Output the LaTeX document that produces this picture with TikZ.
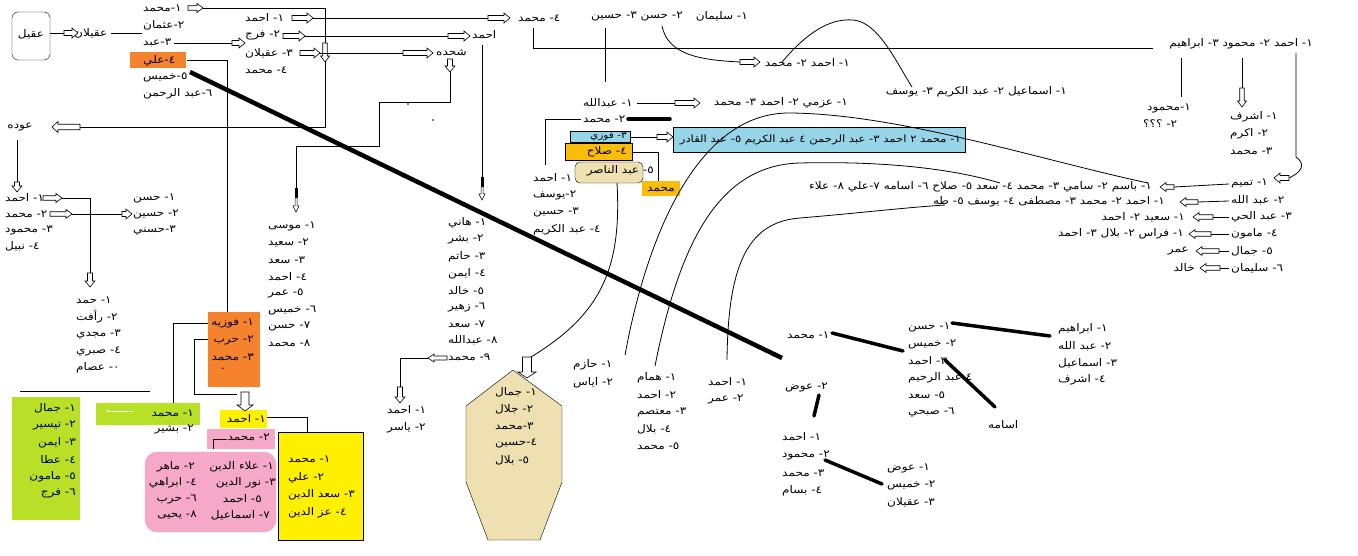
\documentclass[tikz,border=0pt]{standalone}
\usepackage{fontspec}
\usetikzlibrary{arrows.meta}
\newfontfamily\arabicfont[Script=Arabic,FakeStretch=1.15]{DejaVu Sans}
\TeXXeTstate=1
\newcommand\artx[1]{\beginR #1\endR}
\definecolor{orng}{RGB}{245,130,45}
\definecolor{lime}{RGB}{183,224,38}
\definecolor{yel}{RGB}{255,240,0}
\definecolor{pnk}{RGB}{245,168,200}
\definecolor{lblue}{RGB}{150,212,232}
\definecolor{gold}{RGB}{250,190,10}
\definecolor{tan}{RGB}{238,224,176}
\newcommand\harr[5]{%
 \begin{scope}[shift={(#1,#2)},rotate=#3]
 \draw[fill=white,line width=0.6pt] (0,0)--(-6,#5)--(-6,#5/2)--(-#4,#5/2)--(-#4,-#5/2)--(-6,-#5/2)--(-6,-#5)--cycle;
 \end{scope}}
\newcommand\tharr[3]{% thin down arrow: x, top y, bottom tip y
 \fill (#1-1.5,#2) rectangle (#1+1.5,#2+10);
 \draw[fill=white,line width=0.5pt] (#1-1,#2+10)--(#1-1,#3-6)--(#1-3,#3-6)--(#1,#3)--(#1+3,#3-6)--(#1+1,#3-6)--(#1+1,#2+10)--cycle;}
\tikzset{lb/.style={font=\arabicfont\fontsize{10.5}{12}\selectfont, inner sep=0pt},
 sm/.style={font=\arabicfont\fontsize{9.2}{11}\selectfont, inner sep=0pt},
 md/.style={font=\arabicfont\fontsize{10.1}{11}\selectfont, inner sep=0pt},
 ln/.style={line width=0.8pt},
 thick/.style={line width=3.5pt, line cap=round}}
\begin{document}
\begin{tikzpicture}[x=1pt,y=-1pt]
\useasboundingbox (0,0) rectangle (1358,556);
% ---------- boxes (backgrounds) ----------
\fill[orng] (130,52) rectangle (186,68);
\fill[orng] (208,312) rectangle (260,387);
\fill[lime] (12,397) rectangle (80,520);
\fill[lime] (96,403) rectangle (200,425);
\fill[yel] (220,410) rectangle (267,428);
\fill[pnk] (207,429) rectangle (275,449);
\draw[fill=pnk,draw=pnk,rounded corners=12] (145,452) rectangle (276,532);
\draw[fill=yel] (278,432) rectangle (363,540);
\draw[fill=lblue] (570,131) rectangle (630,142);
\draw[fill=lblue] (673,127) rectangle (965,152);
\draw[fill=gold] (565,143) rectangle (632,160);
\fill[gold] (642,181) rectangle (680,196);
\draw[fill=tan,rounded corners=5] (575,162) rectangle (643,183);
\draw[fill=tan] (513,370)--(562,406)--(562,482)--(540,540)--(488,540)--(466,482)--(466,406)--cycle;
\draw[rounded corners=6] (12,12) rectangle (50,60);
% ---------- top-left ----------
\node[lb] (aqil) at (31,34) {\artx{عقيل}};
\node[lb,anchor=west] (aqilan) at (74,33) {\artx{عقيلان}};
\draw[ln] (50,33)--(64,33); \harr{78}{33}{0}{14}{5}
\draw[ln] (111,33)--(142,33);
\node[lb,anchor=west] (m1) at (143,8) {\artx{١-محمد}};
\node[lb,anchor=west] (m2) at (143,25) {\artx{٢-عثمان}};
\node[lb,anchor=west] (m3) at (143,43) {\artx{٣-عبد}};
\node[lb,anchor=west] (m4) at (143,61) {\artx{٤-علي}};
\node[lb,anchor=west] (m5) at (143,77) {\artx{٥-خميس}};
\node[lb,anchor=west] (m6) at (143,94) {\artx{٦-عبد الرحمن}};
\node[lb,anchor=west] (f1) at (245,18) {\artx{١- احمد}};
\node[lb,anchor=west] (f2) at (245,35) {\artx{٢- فرج}};
\node[lb,anchor=west] (f3) at (245,53) {\artx{٣- عقيلان}};
\node[lb,anchor=west] (f4) at (245,70) {\artx{٤- محمد}};
\node[lb] (awda) at (20,127) {\artx{عوده}};
\harr{203}{8}{0}{15}{4.5}
\draw[ln] (203,8)--(325,8)--(325,127)--(80,127);
\harr{52}{127}{180}{28}{5.5}
\harr{325}{62}{-90}{19}{4.5}
\draw[ln] (174,43)--(232,43); \harr{245}{43}{0}{13}{5}
\draw[ln] (187,60)--(227,60)--(227,312);
\harr{313}{18}{0}{21}{5}
\draw[ln] (313,18)--(488,18); \harr{510}{18}{0}{22}{5}
\harr{305}{36}{0}{22}{5}
\draw[ln] (305,36)--(448,36); \harr{470}{36}{0}{22}{5}
\harr{320}{53}{0}{20}{5}
\draw[ln] (320,53)--(403,53); \harr{433}{53}{0}{30}{5}
\node[lb,anchor=west] (tm) at (518,18) {\artx{٤- محمد}};
\node[lb,anchor=west] (ahm) at (472,35) {\artx{احمد}};
\node[lb,anchor=west] (shd) at (436,53) {\artx{شحده}};
\harr{450}{72}{-90}{13}{5}
\draw[ln] (450,72)--(450,102)--(379,102)--(379,146)--(296,146)--(296,188);
\tharr{296}{188}{212}
\fill (408,104) circle (0.8); \fill (433,120) circle (0.8);
\draw[ln] (482,45)--(482,177);
\tharr{482}{177}{200}
% ---------- lists musa / hani ----------
\foreach \t [count=\i] in {١- موسى,٢- سعيد,٣- سعد,٤- احمد,٥- عمر,٦- خميس,٧- حسن,٨- محمد}
 {\node[lb,anchor=west] (mu\i) at (268,{210+16.7*\i}) {\artx{\t}};}
\foreach \t [count=\i] in {١- هاني,٢- بشر,٣- حاتم,٤- ايمن,٥- خالد,٦- زهير,٧- سعد,٨- عبدالله,٩- محمد}
 {\node[lb,anchor=west] (ha\i) at (448,{206.3+16.8*\i}) {\artx{\t}};}
\harr{428}{358}{180}{19}{4}
\draw[ln] (428,358)--(400,358)--(400,387); \harr{400}{403}{-90}{16}{5}
\node[lb,anchor=west] (ya1) at (387,410) {\artx{١- احمد}};
\node[lb,anchor=west] (ya2) at (387,428) {\artx{٢- ياسر}};
% ---------- heptagon ----------
\foreach \t [count=\i] in {١- جمال,٢- جلال,٣-محمد,٤-حسين,٥- بلال}
 {\node[lb,anchor=west] (hp\i) at (495,{375+17*\i}) {\artx{\t}};}
\harr{527}{378}{-90}{21}{9}
% ---------- top middle ----------
\node[lb,anchor=east] (hs) at (683,16) {\artx{٢- حسن ٣- حسين}};
\node[lb,anchor=east] (sl) at (748,16) {\artx{١- سليمان}};
\draw[ln] (533,28)--(533,48)--(1153,48);
\draw[ln] (605,28)--(605,82);
\draw[ln] (662,26) .. controls (668,55) and (700,60) .. (740,62);
\harr{760}{62}{0}{20}{5}
\node[lb,anchor=east] (am) at (850,63) {\artx{١- احمد ٢- محمد}};
\draw[ln] (782,62) .. controls (805,35) and (828,18) .. (853,20) .. controls (878,22) and (895,60) .. (912,87);
\node[lb,anchor=east] (isy) at (1067,92) {\artx{١- اسماعيل ٢- عبد الكريم ٣- يوسف}};
\node[lb,anchor=east] (amb) at (1313,44) {\artx{١- احمد ٢- محمود ٣- ابراهيم}};
\draw[ln] (1181,58)--(1181,97);
\node[lb,anchor=west] (mh1) at (1147,108) {\artx{١-محمود}};
\node[lb,anchor=west] (mh2) at (1143,124) {\artx{٢- ؟؟؟}};
\draw[ln] (1242,58)--(1242,88); \harr{1242}{107}{-90}{19}{4.5}
\node[lb,anchor=west] (as1) at (1230,117) {\artx{١- اشرف}};
\node[lb,anchor=west] (as2) at (1230,134) {\artx{٢- اكرم}};
\node[lb,anchor=west] (as3) at (1230,151) {\artx{٣- محمد}};
\draw[ln] (1296,53)--(1296,157) .. controls (1306,164) and (1302,172) .. (1289,178);
\harr{1274}{178}{180}{15}{5}
% ---------- middle ----------
\node[lb,anchor=west] (ab1) at (583,103) {\artx{١- عبدالله}};
\draw[ln] (637,103)--(675,103); \harr{700}{103}{0}{25}{5}
\node[lb,anchor=east] (az) at (848,103) {\artx{١- عزمي ٢- احمد ٣- محمد}};
\node[lb,anchor=west] (ab2) at (583,119) {\artx{٢- محمد}};
\draw[thick] (628,119)--(670,119);
\draw[ln] (581,119)--(545,119)--(545,165);
\foreach \t [count=\i] in {١- احمد,٢-يوسف,٣- حسين,٤- عبد الكريم}
 {\node[lb,anchor=west] (yu\i) at (533,{160.5+17.3*\i}) {\artx{\t}};}
\node[sm,anchor=east] (fz) at (627,137) {\artx{٣- فوزي}};
\draw[ln] (630,137)--(657,137); \harr{673}{137}{0}{16}{5}
\node[md,anchor=east] (bl) at (961,140) {\artx{١- محمد ٢ احمد ٣- عبد الرحمن ٤ عبد الكريم ٥- عبد القادر}};
\node[lb,anchor=east] (sal) at (627,152) {\artx{٤- صلاح}};
\draw[ln] (632,152)--(658,152)--(658,181);
\node[lb] (smh) at (661,189) {\artx{محمد}};
\node[lb,anchor=east] (nas) at (654,171) {\artx{٥- عبد الناصر}};
\draw[ln] (617,183) .. controls (622,270) and (600,315) .. (531,357);
% ---------- lower middle ----------
\node[lb,anchor=west] (hz1) at (573,365) {\artx{١- حازم}};
\node[lb,anchor=west] (hz2) at (573,383) {\artx{٢- اياس}};
\foreach \t [count=\i] in {١- همام,٢- احمد,٣- معتصم,٤- بلال,٥- محمد}
 {\node[lb,anchor=west] (hm\i) at (637,{361+17*\i}) {\artx{\t}};}
\node[lb,anchor=west] (ao1) at (708,382) {\artx{١- احمد}};
\node[lb,anchor=west] (ao2) at (708,399) {\artx{٢- عمر}};
\draw[ln] (625,355) .. controls (648,230) and (700,112) .. (790,113) .. controls (900,114) and (1040,160) .. (1148,183);
\draw[ln] (655,366) .. controls (680,240) and (720,165) .. (800,163) .. controls (880,161) and (950,168) .. (1000,183);
\draw[ln] (727,360) .. controls (728,270) and (745,222) .. (800,218) .. controls (860,213) and (900,208) .. (945,205);
% ---------- right column ----------
\foreach \t [count=\i] in {١- تميم,٢- عبد الله,٣- عبد الحي,٤- مامون,٥- جمال,٦- سليمان}
 {\node[lb,anchor=west] (rc\i) at (1231,{166+17*\i}) {\artx{\t}};}
\node[lb,anchor=east] (bs) at (1152,187) {\artx{١- باسم ٢- سامي ٣- محمد ٤- سعد ٥- صلاح ٦- اسامه ٧-علي ٨- علاء}};
\harr{1160}{187}{180}{14}{4.5} \draw[ln] (1174,187)--(1229,184);
\node[lb,anchor=east] (mt) at (1165,202) {\artx{١- احمد ٢- محمد ٣- مصطفى ٤- يوسف ٥- طه}};
\harr{1180}{202}{180}{18}{4.5} \draw[ln] (1198,202)--(1229,201);
\node[lb,anchor=east] (sa) at (1185,217) {\artx{١- سعيد ٢- احمد}};
\harr{1193}{217}{180}{20}{4.5} \draw[ln] (1213,217)--(1229,217);
\node[lb,anchor=east] (fr) at (1184,234) {\artx{١- فراس ٢- بلال ٣- احمد}};
\harr{1189}{234}{180}{22}{4.5} \draw[ln] (1211,234)--(1229,234);
\node[lb,anchor=east] (om) at (1189,251) {\artx{عمر}};
\harr{1196}{251}{180}{23}{4.5} \draw[ln] (1219,251)--(1229,251);
\node[lb,anchor=east] (kh) at (1195,268) {\artx{خالد}};
\harr{1200}{268}{180}{20}{4.5} \draw[ln] (1220,268)--(1229,268);
% ---------- lower right ----------
\draw[line width=4.5pt] (190,72)--(782,358);
\node[lb,anchor=west] (lm) at (787,335) {\artx{١- محمد}};
\node[lb,anchor=west] (lw) at (785,387) {\artx{٢- عوض}};
\foreach \t [count=\i] in {١- احمد,٢- محمود,٣- محمد,٤- بسام}
 {\node[lb,anchor=west] (lb\i) at (782,{419+18*\i}) {\artx{\t}};}
\foreach \t [count=\i] in {١- عوض,٢- خميس,٣- عقيلان}
 {\node[lb,anchor=west] (lc\i) at (887,{451+17*\i}) {\artx{\t}};}
\foreach \t [count=\i] in {١- حسن,٢- خميس,٣- احمد,٤ عبد الرحيم,٥- سعد,٦- صبحي}
 {\node[lb,anchor=west] (ld\i) at (908,{310+17*\i}) {\artx{\t}};}
\foreach \t [count=\i] in {١- ابراهيم,٢- عبد الله,٣- اسماعيل,٤- اشرف}
 {\node[lb,anchor=west] (le\i) at (1058,{312+17*\i}) {\artx{\t}};}
\node[lb,anchor=west] (osm) at (988,425) {\artx{اسامه}};
\draw[thick] (832,333)--(903,351);
\draw[thick] (952,323)--(1050,336);
\draw[thick] (945,360)--(995,407);
\draw[thick] (819,395)--(814,416);
\draw[thick] (825,460)--(882,484);
% ---------- bottom-left ----------
\draw[ln] (17,140)--(17,182); \harr{17}{192}{-90}{10}{5}
\foreach \t [count=\i] in {١- احمد,٢- محمد,٣- محمود,٤- نبيل}
 {\node[lb,anchor=west] (aw\i) at (5,{181.5+16.3*\i}) {\artx{\t}};}
\harr{62}{198}{0}{19}{4.5}
\draw[ln] (62,198)--(90,198)--(90,273); \harr{90}{287}{-90}{14}{5}
\harr{72}{214}{0}{22}{4.5}
\draw[ln] (72,214)--(122,214); \harr{132}{214}{0}{10}{5}
\foreach \t [count=\i] in {١- حسن,٢- حسين,٣-حسني}
 {\node[lb,anchor=west] (hn\i) at (133,{182+16*\i}) {\artx{\t}};}
\foreach \t [count=\i] in {١- حمد,٢- رأفت,٣- مجدي,٤- صبري,٠- عصام}
 {\node[lb,anchor=west] (hd\i) at (76,{283+17*\i}) {\artx{\t}};}
\node[lb,anchor=east] (fw1) at (254,323) {\artx{١- فوزيه}};
\node[lb,anchor=east] (fw2) at (254,340) {\artx{٢- حرب}};
\node[lb,anchor=east] (fw3) at (254,357) {\artx{٣- محمد}};
\node[lb] (fw4) at (223,369) {.};
\draw[ln] (208,323)--(173,323)--(173,403);
\draw[ln] (208,339)--(194,339)--(194,394)--(237,394);
\harr{245}{411}{-90}{19}{8}
\draw[ln] (20,391)--(150,391);
\foreach \t [count=\i] in {١- جمال,٢- تيسير,٣- ايمن,٤- عطا,٥- مامون,٦- فرج}
 {\node[lb,anchor=east] (gr\i) at (76,{391.5+17*\i}) {\artx{\t}};}
\node[lb,anchor=east] (gm) at (194,413) {\artx{١- محمد}};
\node[lb,anchor=east] (gb) at (194,429) {\artx{٢- بشير}};
\draw[white,line width=0.8pt,-{Stealth[length=3pt]}] (133,411)--(106,411);
\node[lb,anchor=east] (ya) at (266,419) {\artx{١- احمد}};
\draw[ln] (267,417)--(307,417)--(307,432);
\node[lb,anchor=east] (pm) at (270,437) {\artx{٢- محمد}};
\draw[ln] (227,439)--(213,439)--(213,449);
\node[lb,anchor=east] (p1) at (274,467) {\artx{١- علاء الدين}};
\node[lb,anchor=east] (p2) at (195,467) {\artx{٢- ماهر}};
\node[lb,anchor=east] (p3) at (276,483) {\artx{٣- نور الدين}};
\node[lb,anchor=east] (p4) at (197,483) {\artx{٤- ابراهي}};
\node[lb,anchor=east] (p5) at (262,499) {\artx{٥- احمد}};
\node[lb,anchor=east] (p6) at (197,499) {\artx{٦- حرب}};
\node[lb,anchor=east] (p7) at (270,515) {\artx{٧- اسماعيل}};
\node[lb,anchor=east] (p8) at (197,515) {\artx{٨- يحيى}};
\foreach \t [count=\i] in {١- محمد,٢- علي,٣- سعد الدين,٤- عز الدين}
 {\node[lb,anchor=west] (yy\i) at (288,{442+17.7*\i}) {\artx{\t}};}
\end{tikzpicture}
\end{document}
